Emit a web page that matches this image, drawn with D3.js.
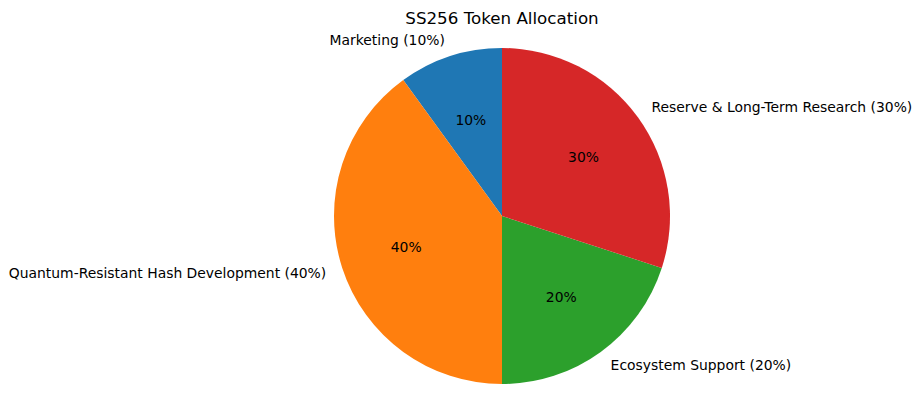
<!DOCTYPE html>
<html>
<head>
<meta charset="utf-8">
<script src="https://cdn.jsdelivr.net/npm/d3@7"></script>
<style>
  body { margin: 0; background: #fff; }
</style>
</head>
<body>
<script>
// Données du graphique
const categories = ['Marketing', 'Quantum-Resistant Hash Development', 'Ecosystem Support', 'Reserve & Long-Term Research'];
const shares = [10, 40, 20, 30];
const colors = ['#1f77b4', '#ff7f0e', '#2ca02c', '#d62728'];

const width = 921;
const height = 411;
const cx = 502, cy = 216, radius = 168;

const svg = d3.select('body')
  .append('svg')
  .attr('width', width)
  .attr('height', height)
  .style('font-family', 'DejaVu Sans, sans-serif');

// titre
svg.append('text')
  .attr('x', cx)
  .attr('y', 24)
  .attr('text-anchor', 'middle')
  .attr('font-size', '16.7px')
  .text('SS256 Token Allocation');

const data = categories.map((c, i) => ({ name: c, value: shares[i], color: colors[i] }));

// sens antihoraire depuis le haut
const pie = d3.pie()
  .sort(null)
  .value(d => d.value)
  .startAngle(0)
  .endAngle(-2 * Math.PI);

const arc = d3.arc().innerRadius(0).outerRadius(radius);

const g = svg.append('g').attr('transform', `translate(${cx},${cy})`);
const arcs = pie(data);

g.selectAll('path')
  .data(arcs)
  .join('path')
    .attr('d', arc)
    .attr('fill', d => d.data.color);

const pos = (d, k) => {
  const a = (d.startAngle + d.endAngle) / 2;
  return [k * radius * Math.sin(a), -k * radius * Math.cos(a)];
};

// étiquettes extérieures
g.selectAll('text.label')
  .data(arcs)
  .join('text')
    .attr('class', 'label')
    .attr('x', d => pos(d, 1.1)[0])
    .attr('y', d => pos(d, 1.1)[1])
    .attr('dy', '0.35em')
    .attr('text-anchor', d => pos(d, 1.1)[0] < 0 ? 'end' : 'start')
    .attr('font-size', '13.9px')
    .text(d => `${d.data.name} (${d.data.value}%)`);

// pourcentages
g.selectAll('text.pct')
  .data(arcs)
  .join('text')
    .attr('class', 'pct')
    .attr('x', d => pos(d, 0.6)[0])
    .attr('y', d => pos(d, 0.6)[1])
    .attr('dy', '0.35em')
    .attr('text-anchor', 'middle')
    .attr('font-size', '13.9px')
    .text(d => `${d.data.value}%`);
</script>
</body>
</html>
